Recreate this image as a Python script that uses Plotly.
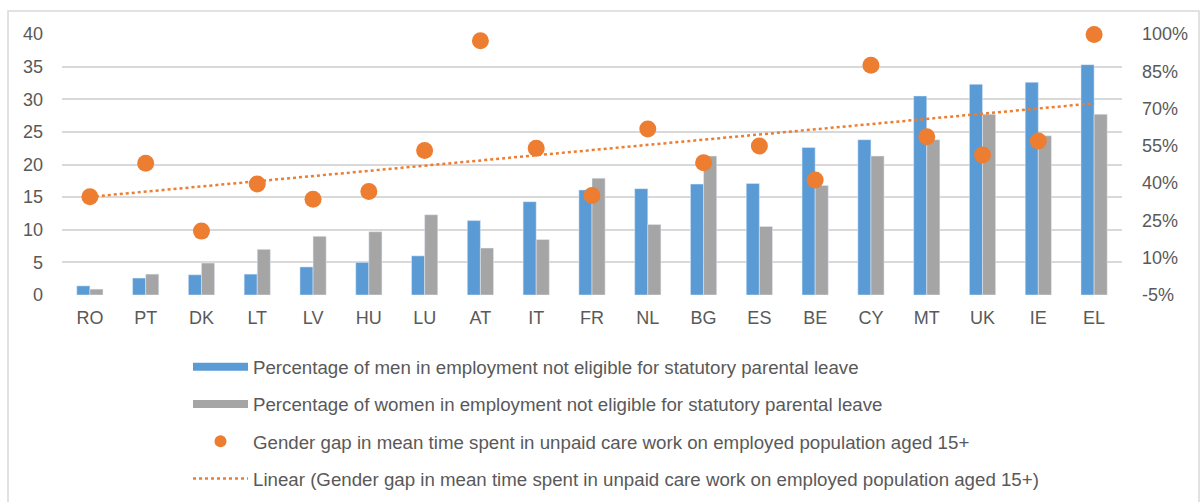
import numpy as np
import plotly.graph_objects as go

countries = ["RO", "PT", "DK", "LT", "LV", "HU", "LU", "AT", "IT", "FR",
             "NL", "BG", "ES", "BE", "CY", "MT", "UK", "IE", "EL"]
men_not_eligible = [1.4, 2.6, 3.1, 3.2, 4.3, 5.0, 6.0, 11.4, 14.3, 16.1,
                    16.3, 17.0, 17.1, 22.6, 23.8, 30.5, 32.3, 32.6, 35.3]
women_not_eligible = [0.9, 3.2, 4.9, 7.0, 9.0, 9.7, 12.3, 7.2, 8.5, 17.9,
                      10.8, 21.3, 10.5, 16.8, 21.3, 23.8, 27.7, 24.4, 27.7]
care_gap_pct = [34.5, 48.0, 20.7, 39.7, 33.5, 36.6, 53.1, 97.3, 54.0, 35.0,
                61.8, 48.2, 54.9, 41.3, 87.4, 58.7, 51.3, 57.0, 99.8]
left_ticks = [0, 5, 10, 15, 20, 25, 30, 35, 40]
right_ticks = [-5, 10, 25, 40, 55, 70, 85, 100]
right_labels = ["-5%", "10%", "25%", "40%", "55%", "70%", "85%", "100%"]

name_men = "Percentage of men in employment not eligible for statutory parental leave"
name_women = "Percentage of women in employment not eligible for statutory parental leave"
name_gap = "Gender gap in mean time spent in unpaid care work on employed population aged 15+"
name_lin = "Linear (Gender gap in mean time spent in unpaid care work on employed population aged 15+)"

BLUE = "#5B9BD5"
GRAY = "#A5A5A5"
ORANGE = "#ED7D31"
TXT = "#595959"
FONT = "Liberation Sans, Arial, sans-serif"

# linear trendline fitted on the scatter series
idx = np.arange(1, len(countries) + 1)
slope, intercept = np.polyfit(idx, care_gap_pct, 1)
trend = slope * idx + intercept

fig = go.Figure()
fig.add_trace(go.Bar(x=countries, y=men_not_eligible, marker_color=BLUE,
                     name=name_men, showlegend=False))
fig.add_trace(go.Bar(x=countries, y=women_not_eligible, marker_color=GRAY,
                     name=name_women, showlegend=False))
fig.add_trace(go.Scatter(x=countries, y=trend, mode="lines", yaxis="y2",
                         line=dict(color=ORANGE, width=2.5, dash="dot"),
                         name=name_lin, showlegend=False))
fig.add_trace(go.Scatter(x=countries, y=care_gap_pct, mode="markers", yaxis="y2",
                         marker=dict(color=ORANGE, size=17), cliponaxis=False,
                         name=name_gap, showlegend=False))

# legend entries (Excel-style wide swatches)
fig.add_trace(go.Scatter(x=[countries[0]], y=[None], mode="lines", name=name_men,
                         line=dict(color=BLUE, width=8), legendgroup="a"))
fig.add_trace(go.Scatter(x=[countries[0]], y=[None], mode="lines", name=name_women,
                         line=dict(color=GRAY, width=8), legendgroup="b"))
fig.add_trace(go.Scatter(x=[countries[0]], y=[None], mode="markers", name=name_gap,
                         marker=dict(color=ORANGE, size=12), legendgroup="c"))
fig.add_trace(go.Scatter(x=[countries[0]], y=[None], mode="lines", name=name_lin,
                         line=dict(color=ORANGE, width=2.5, dash="dot"), legendgroup="d"))

W, H = 1200, 502
L, R, T, B = 62, 78, 34, 207
pw = W - L - R
ph = H - T - B


def px_x(p):
    return (p - L) / pw


def px_y(p):
    return (H - B - p) / ph


fig.update_layout(
    width=W, height=H,
    margin=dict(l=L, r=R, t=T, b=B, pad=0, autoexpand=False),
    paper_bgcolor="white", plot_bgcolor="white",
    font=dict(family=FONT, size=18, color=TXT),
    barmode="group", bargap=0.53, bargroupgap=0,
    xaxis=dict(type="category", categoryorder="array", categoryarray=countries,
               range=[-0.5, len(countries) - 0.5],
               showgrid=False, showline=False, ticks="",
               tickfont=dict(size=18, color=TXT), ticklabelstandoff=10),
    yaxis=dict(range=[0, 40], tickvals=left_ticks, showgrid=True,
               gridcolor="#d9d9d9", gridwidth=1.5, zeroline=False,
               showline=False, ticks="", tickfont=dict(size=18, color=TXT),
               ticklabelstandoff=18),
    yaxis2=dict(range=[-5, 100], tickvals=right_ticks, ticktext=right_labels,
                overlaying="y", side="right", showgrid=False, zeroline=False,
                showline=False, ticks="", tickfont=dict(size=18, color=TXT),
                ticklabelstandoff=19),
    legend=dict(x=px_x(188), y=px_y(348), xanchor="left", yanchor="top",
                orientation="v", traceorder="grouped", tracegroupgap=10,
                font=dict(size=18.7, color=TXT), itemwidth=55,
                bgcolor="rgba(0,0,0,0)"),
    showlegend=True,
    shapes=[dict(type="rect", xref="paper", yref="paper",
                 x0=px_x(8), x1=px_x(1199), y0=px_y(11), y1=px_y(520),
                 line=dict(color="#d9d9d9", width=1.5), fillcolor="rgba(0,0,0,0)",
                 layer="below")],
)

fig.write_html("out.html", config={"displayModeBar": False},
               post_script="document.body.style.margin='0';document.body.style.overflow='hidden';")
